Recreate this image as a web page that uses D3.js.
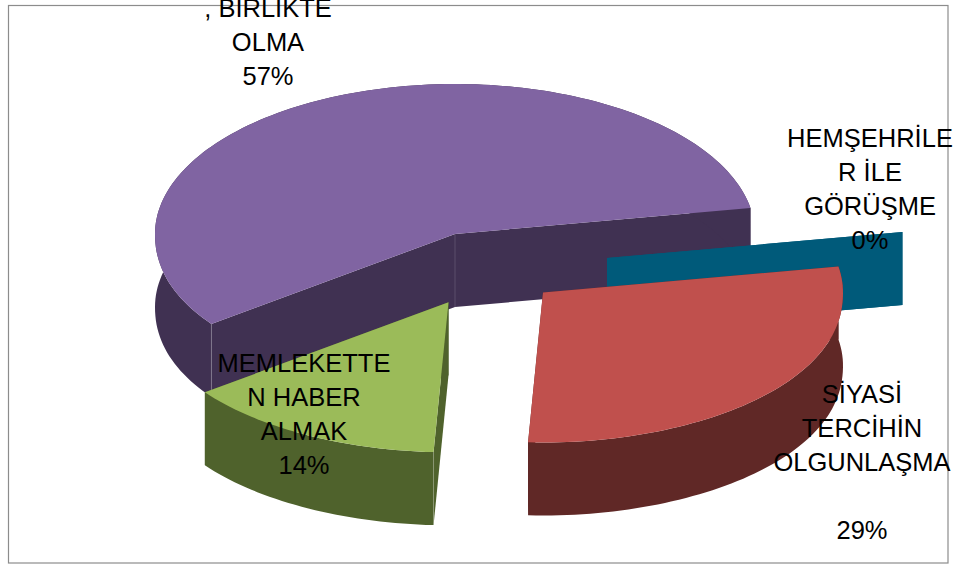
<!DOCTYPE html>
<html>
<head>
<meta charset="utf-8">
<script src="https://cdn.jsdelivr.net/npm/d3@7/dist/d3.min.js"></script>
<style>
html,body{margin:0;padding:0;background:#fff;overflow:hidden}
svg{display:block}
text{font-family:"Liberation Sans",Arial,sans-serif;font-size:25.5px;fill:#000;text-anchor:middle}
</style>
</head>
<body>
<svg id="chart" width="963" height="568"></svg>
<script>
// Data
const categories = [
  ["", ", BİRLİKTE", "OLMA"],
  ["HEMŞEHRİLE", "R İLE", "GÖRÜŞME"],
  ["SİYASİ", "TERCİHİN", "OLGUNLAŞMA", ""],
  ["MEMLEKETTE", "N HABER", "ALMAK"]
];
const values = [57.14, 0, 28.57, 14.29];

// Style and layout
const topColors = ["#8064A2", "#005A7A", "#C0504D", "#9BBB59"];
const wallColors = ["#403152", "#005A7A", "#602826", "#4F622C"];
const centers = [[455, 234], [607, 258], [543, 292.5], [448.5, 302.3]];
const labelAnchors = [[268, 17], [870, 147], [862, 403], [304, 372]];
const lineStep = 34;
const depth = 73;
const firstSliceEnd = 80 * Math.PI / 180;

const svg = d3.select("#chart");
svg.append("rect").attr("x", 8.5).attr("y", 5.5).attr("width", 939.5).attr("height", 557.5)
  .attr("fill", "#fff").attr("stroke", "#8c8c8c").attr("stroke-width", 1.2);

const total = d3.sum(values);
const pie = d3.pie().sort(null)
  .startAngle(firstSliceEnd - values[0] / total * 2 * Math.PI)
  .endAngle(firstSliceEnd - values[0] / total * 2 * Math.PI + 2 * Math.PI);
const slices = pie(values);

const sx = d3.scaleLinear().domain([-1, 1]).range([-300, 300]);
const sy = d3.scaleLinear().domain([-1, 1]).range([-150, 150]);
const outline = d3.line();

// The front half of the disc sags slightly below a true ellipse.
const project = a => {
  const s = Math.sin(a), k = -Math.cos(a);
  if (k <= 0) return [s, k];
  const t = Math.asin(Math.min(1, k)) / (Math.PI / 2);
  const q = 0.94 + 0.06 * t * t;
  return [s, Math.pow(k, q)];
};
const arcPts = (a0, a1, c, dy) => {
  const n = Math.max(1, Math.ceil(Math.abs(a1 - a0) / (1.5 * Math.PI / 180)));
  return d3.range(n + 1).map(i => {
    const p = project(a0 + (a1 - a0) * i / n);
    return [c[0] + sx(p[0]), c[1] + sy(p[1]) + dy];
  });
};

const groups = svg.selectAll("g.slice").data(slices).join("g").attr("class", "slice");

groups.each(function (d, i) {
  const g = d3.select(this), c = centers[i];
  const edge = a => arcPts(a, a, c, 0)[0];
  const radialWall = a => {
    const e = edge(a);
    return [c, e, [e[0], e[1] + depth], [c[0], c[1] + depth]];
  };
  // radial side walls
  [d.endAngle, d.startAngle].forEach(a => {
    g.append("path").attr("d", outline(radialWall(a)) + "Z").attr("fill", wallColors[i]);
  });
  if (d.endAngle > d.startAngle) {
    // rim
    const rim = arcPts(d.startAngle, d.endAngle, c, 0)
      .concat(arcPts(d.endAngle, d.startAngle, c, depth));
    g.append("path").attr("d", outline(rim) + "Z").attr("fill", wallColors[i]);
    // seams at the visible corners
    const seams = i === 0 ? [c, edge(d.startAngle)] : i === 3 ? [edge(d.startAngle)] : [];
    seams.forEach(p => {
      g.append("line").attr("x1", p[0]).attr("x2", p[0]).attr("y1", p[1]).attr("y2", p[1] + depth)
        .attr("stroke", "#fff").attr("stroke-opacity", 0.14).attr("stroke-width", 1);
    });
    // top face
    const top = [c].concat(arcPts(d.startAngle, d.endAngle, c, 0));
    g.append("path").attr("d", outline(top) + "Z").attr("fill", topColors[i]);
  }
});

// Labels
const labels = svg.selectAll("g.label").data(slices).join("g").attr("class", "label")
  .attr("transform", (d, i) => `translate(${labelAnchors[i][0]},${labelAnchors[i][1]})`);
labels.each(function (d, i) {
  const skipFirst = categories[i][0] === "" ? 1 : 0;
  const lines = categories[i].slice(skipFirst).concat(Math.round(d.data) + "%");
  d3.select(this).selectAll("text").data(lines).join("text")
    .attr("y", (t, k) => k * lineStep).text(t => t);
});
</script>
</body>
</html>
